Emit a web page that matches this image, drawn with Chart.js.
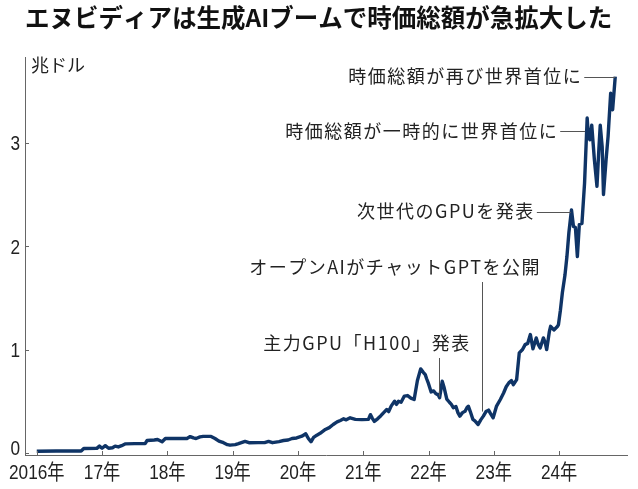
<!DOCTYPE html>
<html lang="ja">
<head>
<meta charset="utf-8">
<title>エヌビディアの時価総額</title>
<script src="https://cdn.jsdelivr.net/npm/chart.js@4.4.1/dist/chart.umd.min.js"></script>
<style>
  html, body { margin: 0; padding: 0; background: #fff; }
  canvas { display: block; }
</style>
</head>
<body>
<canvas id="capChart" width="638" height="489"></canvas>
<script>
// 時価総額の推移（年は小数表記、値は兆ドル）
const years = [
  2016.00, 2016.30, 2016.68, 2016.72, 2016.92, 2016.96, 2017.00, 2017.05, 2017.10, 2017.16,
  2017.20, 2017.25, 2017.30, 2017.36, 2017.50, 2017.66, 2017.69, 2017.80, 2017.85, 2017.92,
  2017.97, 2018.10, 2018.30, 2018.35, 2018.40, 2018.44, 2018.50, 2018.55, 2018.67, 2018.73,
  2018.79, 2018.86, 2018.92, 2018.96, 2019.04, 2019.09, 2019.19, 2019.25, 2019.39, 2019.49,
  2019.55, 2019.61, 2019.71, 2019.78, 2019.85, 2019.91, 2019.98, 2020.06, 2020.12, 2020.16,
  2020.20, 2020.24, 2020.29, 2020.34, 2020.42, 2020.48, 2020.54, 2020.60, 2020.65, 2020.70,
  2020.74, 2020.80, 2020.88, 2020.98, 2021.08, 2021.11, 2021.14, 2021.17, 2021.22, 2021.27,
  2021.31, 2021.36, 2021.39, 2021.43, 2021.48, 2021.51, 2021.54, 2021.58, 2021.63, 2021.68,
  2021.73, 2021.78, 2021.83, 2021.88, 2021.92, 2021.95, 2021.97, 2022.00, 2022.04, 2022.08,
  2022.11, 2022.15, 2022.17, 2022.21, 2022.24, 2022.28, 2022.32, 2022.35, 2022.38, 2022.42,
  2022.45, 2022.48, 2022.52, 2022.56, 2022.59, 2022.61, 2022.64, 2022.68, 2022.71, 2022.76,
  2022.80, 2022.84, 2022.88, 2022.92, 2022.95, 2022.99, 2023.04, 2023.10, 2023.15, 2023.19,
  2023.23, 2023.27, 2023.30, 2023.35, 2023.39, 2023.44, 2023.48, 2023.52, 2023.56, 2023.60,
  2023.65, 2023.68, 2023.71, 2023.76, 2023.79, 2023.81, 2023.85, 2023.87, 2023.92, 2023.97,
  2023.99, 2024.02, 2024.05, 2024.09, 2024.12, 2024.15, 2024.18, 2024.19, 2024.22, 2024.25,
  2024.28, 2024.31, 2024.35, 2024.39, 2024.43, 2024.45, 2024.47, 2024.50, 2024.54, 2024.58,
  2024.61, 2024.63, 2024.66, 2024.68, 2024.72, 2024.75, 2024.79, 2024.82, 2024.86
];
const marketCap = [
  0.017, 0.018, 0.018, 0.043, 0.044, 0.066, 0.045, 0.070, 0.045, 0.050,
  0.066, 0.058, 0.070, 0.088, 0.090, 0.090, 0.120, 0.125, 0.130, 0.108,
  0.140, 0.140, 0.140, 0.158, 0.145, 0.140, 0.155, 0.160, 0.160, 0.140,
  0.115, 0.099, 0.080, 0.075, 0.080, 0.090, 0.112, 0.099, 0.100, 0.100,
  0.112, 0.099, 0.110, 0.120, 0.125, 0.140, 0.145, 0.162, 0.185, 0.140,
  0.108, 0.150, 0.172, 0.190, 0.227, 0.245, 0.275, 0.300, 0.314, 0.330,
  0.320, 0.340, 0.325, 0.322, 0.325, 0.370, 0.335, 0.305, 0.330, 0.360,
  0.388, 0.420, 0.400, 0.455, 0.500, 0.470, 0.500, 0.490, 0.550, 0.555,
  0.530, 0.517, 0.700, 0.813, 0.780, 0.758, 0.720, 0.670, 0.590, 0.600,
  0.575, 0.560, 0.533, 0.694, 0.630, 0.520, 0.490, 0.470, 0.437, 0.450,
  0.390, 0.356, 0.390, 0.404, 0.440, 0.452, 0.400, 0.324, 0.310, 0.275,
  0.320, 0.356, 0.400, 0.414, 0.380, 0.340, 0.450, 0.517, 0.580, 0.640,
  0.678, 0.700, 0.660, 0.710, 0.968, 1.000, 1.048, 1.060, 1.145, 1.007,
  1.113, 1.050, 1.016, 1.113, 1.060, 1.000, 1.170, 1.225, 1.190, 1.220,
  1.240, 1.380, 1.550, 1.720, 1.900, 2.130, 2.300, 2.350, 2.190, 2.180,
  1.900, 2.210, 2.220, 2.610, 3.240, 3.050, 3.030, 3.170, 2.840, 2.580,
  2.950, 3.170, 2.960, 2.500, 2.840, 3.060, 3.480, 3.320, 3.640
];

// 目盛り
const yearTicks = [2016, 2017, 2018, 2019, 2020, 2021, 2022, 2023, 2024];
const yearLabels = ['2016年', '17年', '18年', '19年', '20年', '21年', '22年', '23年', '24年'];
const valueTicks = [0, 1, 2, 3];
const valueLabels = ['0', '1', '2', '3'];

// 注記（テキスト・年・値）
const noteTexts = [
  '時価総額が再び世界首位に',
  '時価総額が一時的に世界首位に',
  '次世代のGPUを発表',
  'オープンAIがチャットGPTを公開',
  '主力GPU「H100」発表'
];
const noteYears = [2024.86, 2024.40, 2024.18, 2022.82, 2022.16];
const noteValues = [3.64, 3.11, 2.335, 0.40, 0.545];

// 注記の置き方（h: 横の引き出し線, v: 縦の引き出し線）
const noteLayout = [
  { kind: 'h', len: 31 },
  { kind: 'h', len: 25 },
  { kind: 'h', len: 34 },
  { kind: 'v', dx: -87, top: 282, textY: 267 },
  { kind: 'v', dx: -72, top: 358, textY: 343 }
];

const CJK = '"Noto Sans CJK JP", "Noto Sans", sans-serif';
const NUM = '21px "Liberation Sans", "Noto Sans CJK JP", sans-serif';

// 横に詰めた文字を描く
function drawNarrow(ctx, text, x, y, align, sx) {
  ctx.save();
  ctx.translate(x, y);
  ctx.scale(sx, 1);
  ctx.textAlign = align;
  ctx.textBaseline = 'alphabetic';
  ctx.fillText(text, 0, 0);
  ctx.restore();
}

const decorPlugin = {
  id: 'decor',
  afterDatasetsDraw(chart) {
    const ctx = chart.ctx;
    const xs = chart.scales.x;
    const ys = chart.scales.y;
    const area = chart.chartArea;

    ctx.save();
    // 内向きの目盛り線
    ctx.strokeStyle = '#666';
    ctx.lineWidth = 1;
    ctx.beginPath();
    yearTicks.forEach(v => {
      const px = Math.round(xs.getPixelForValue(v)) + 0.5;
      ctx.moveTo(px, area.bottom);
      ctx.lineTo(px, area.bottom - 4);
    });
    valueTicks.forEach(v => {
      const py = Math.round(ys.getPixelForValue(v)) + 0.5;
      ctx.moveTo(area.left, py);
      ctx.lineTo(area.left + 4, py);
    });
    ctx.stroke();

    // 目盛りラベル
    ctx.fillStyle = '#222';
    ctx.font = NUM;
    yearTicks.forEach((v, i) => {
      drawNarrow(ctx, yearLabels[i], xs.getPixelForValue(v), area.bottom + 23.5, 'center', 0.82);
    });
    valueTicks.forEach((v, i) => {
      const py = ys.getPixelForValue(v);
      const base = v === 0 ? area.bottom : py + 7.5;
      drawNarrow(ctx, valueLabels[i], area.left - 5, base, 'right', 0.82);
    });

    // 単位
    ctx.font = '18px ' + CJK;
    ctx.textAlign = 'left';
    ctx.textBaseline = 'middle';
    ctx.fillText('兆ドル', area.left + 6, 65);

    // 注記
    ctx.font = '18px ' + CJK;
    if ('letterSpacing' in ctx) ctx.letterSpacing = '1.5px';
    noteTexts.forEach((text, i) => {
      const lay = noteLayout[i];
      const px = xs.getPixelForValue(noteYears[i]);
      const py = ys.getPixelForValue(noteValues[i]);
      ctx.strokeStyle = '#555';
      ctx.lineWidth = 1;
      ctx.beginPath();
      if (lay.kind === 'h') {
        const y = Math.round(py) + 0.5;
        ctx.moveTo(px - lay.len, y);
        ctx.lineTo(px, y);
        ctx.stroke();
        ctx.textAlign = 'right';
        ctx.textBaseline = 'middle';
        ctx.fillText(text, px - lay.len - 2, py);
      } else {
        const x = Math.round(px) + 0.5;
        ctx.moveTo(x, lay.top);
        ctx.lineTo(x, py);
        ctx.stroke();
        ctx.textAlign = 'center';
        ctx.textBaseline = 'middle';
        ctx.fillText(text, px + lay.dx, lay.textY);
      }
    });
    ctx.restore();
  }
};

const points = years.map((y, i) => ({ x: y, y: marketCap[i] }));

new Chart(document.getElementById('capChart'), {
  type: 'line',
  data: {
    datasets: [{
      data: points,
      borderColor: '#0f3466',
      borderWidth: 3.4,
      pointRadius: 0,
      tension: 0,
      fill: false,
      borderJoinStyle: 'round'
    }]
  },
  options: {
    responsive: false,
    animation: false,
    layout: { padding: { top: 3, left: 25, right: 11, bottom: 34 } },
    plugins: {
      legend: { display: false },
      tooltip: { enabled: false },
      title: {
        display: true,
        text: 'エヌビディアは生成AIブームで時価総額が急拡大した',
        align: 'start',
        color: '#111',
        font: { family: CJK, size: 24.5, weight: 'bold', lineHeight: 1.2 },
        padding: { top: 0, bottom: 24.6 }
      }
    },
    scales: {
      x: {
        type: 'linear',
        min: 2015.82,
        max: 2025.04,
        afterBuildTicks: s => { s.ticks = yearTicks.map(v => ({ value: v })); },
        ticks: { display: false },
        grid: { display: false, drawTicks: false },
        border: { display: true, color: '#666', width: 1 }
      },
      y: {
        min: -0.02,
        max: 3.83,
        afterBuildTicks: s => { s.ticks = valueTicks.map(v => ({ value: v })); },
        ticks: { display: false },
        grid: { display: false, drawTicks: false },
        border: { display: true, color: '#666', width: 1 }
      }
    }
  },
  plugins: [decorPlugin]
});
</script>
</body>
</html>
